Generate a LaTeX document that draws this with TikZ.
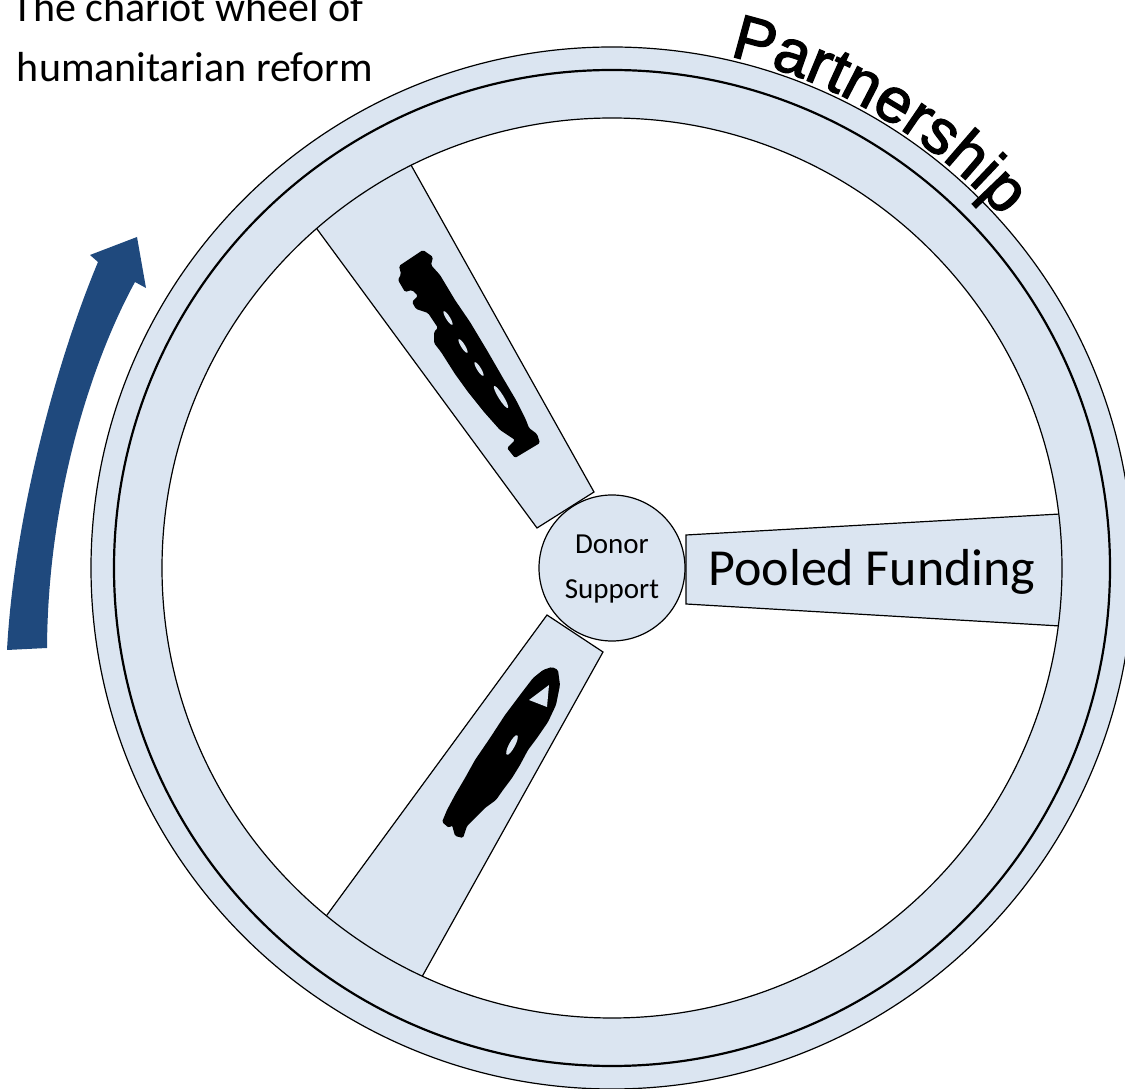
\documentclass[tikz,border=0pt]{standalone}
\usepackage{fontspec}
\setmainfont{Carlito}
\newfontfamily\partfont[FakeBold=2]{Liberation Sans}
\usetikzlibrary{calc,decorations.text}
\definecolor{rimblue}{HTML}{DBE5F1}
\definecolor{arrowblue}{HTML}{1F497D}
\begin{document}
\begin{tikzpicture}[x=1pt,y=1pt,
  thinline/.style={line width=1.2pt},
  spokebox/.style={fill=rimblue, draw=black, line width=1.2pt},
  inkmark/.style={fill=black, rounded corners=1.5pt},
  inkgap/.style={fill=rimblue},
]
\useasboundingbox (0,0) rectangle (1125,1088);
\clip (0,0) rectangle (1125,1088);

% geometry is laid out with y growing downwards
\begin{scope}[shift={(0,1088)}, yscale=-1]
  \coordinate (C) at (612,568);

  % upper-left spoke
  \coordinate (a1) at (537,528); \coordinate (a2) at (594,492);
  \coordinate (a3) at (411,165); \coordinate (a4) at (317,229);
  \draw[spokebox] (a1) -- (a2) -- ($(a2)!1.06!(a3)$) -- ($(a1)!1.06!(a4)$) -- cycle;

  % lower-left spoke
  \coordinate (b1) at (547,615); \coordinate (b2) at (603,652);
  \coordinate (b3) at (423,975); \coordinate (b4) at (327,915);
  \draw[spokebox] (b1) -- (b2) -- ($(b2)!1.06!(b3)$) -- ($(b1)!1.06!(b4)$) -- cycle;

  % right spoke
  \coordinate (c1) at (686,535); \coordinate (c2) at (686,604);
  \coordinate (c3) at (1060,626); \coordinate (c4) at (1060,514);
  \draw[spokebox] (c1) -- (c2) -- ($(c2)!1.05!(c3)$) -- ($(c1)!1.05!(c4)$) -- cycle;

  % rim
  \fill[rimblue, even odd rule] (C) circle[radius=521] (C) circle[radius=450];
  \draw[thinline] (C) circle[radius=521];
  \draw[line width=2.2pt] (C) circle[radius=498];
  \draw[thinline] (C) circle[radius=450];

  % hub
  \node[circle, fill=rimblue, draw=black, line width=1.2pt, minimum size=146pt,
        inner sep=0pt, align=center, font=\fontsize{29}{45}\selectfont,
        text depth=2pt]
        (hub) at (C) {Donor\\Support};

  \node[font=\fontsize{52}{60}\selectfont, anchor=base] (pooled) at (872,586) {Pooled Funding};

  % smudged ink on the upper-left spoke
  \fill[inkmark] (399,266) -- (423,250) -- (433,257) -- (431,265) -- (440,275)
    -- (455,300) -- (470,322) -- (488,352) -- (503,378) -- (516,400) -- (526,420)
    -- (529,428) -- (537,434) -- (540,443) -- (515,458) -- (507,448) -- (515,440)
    -- (500,430) -- (484,412) -- (468,392) -- (455,374) -- (441,352) -- (434,343)
    -- (434,332) -- (438,328) -- (428,313) -- (416,309) -- (412,302) -- (418,296)
    -- (412,290) -- (405,292) -- (398,280) -- (401,274) -- cycle;
  \fill[inkgap, rotate around={58:(448,318)}] (448,318) ellipse[x radius=8, y radius=2];
  \fill[inkgap, rotate around={58:(463,346)}] (463,346) ellipse[x radius=8, y radius=2];
  \fill[inkgap, rotate around={58:(479,369)}] (479,369) ellipse[x radius=8, y radius=2];
  \fill[inkgap, rotate around={58:(501,397)}] (501,397) ellipse[x radius=13, y radius=2.5];

  % smudged ink on the lower-left spoke
  \fill[inkmark] (552,667) -- (558,670) -- (560,685) -- (556,705) -- (548,722)
    -- (537,738) -- (528,750) -- (520,765) -- (512,778) -- (503,790) -- (496,800)
    -- (485,808) -- (475,818) -- (467,826) -- (463,838) -- (455,836) -- (452,825)
    -- (449,828) -- (442,822) -- (447,810) -- (455,795) -- (465,778) -- (475,760)
    -- (490,738) -- (505,715) -- (520,695) -- (533,678) -- (543,670) -- cycle;
  \fill[inkgap] (529,700) -- (549,685) -- (547,707) -- cycle;
  \fill[inkgap, rotate around={-62:(512,745)}] (512,745) ellipse[x radius=11, y radius=3];

  % rotation arrow
  \fill[arrowblue] (7,650) .. controls (14,520) and (55,365) .. (98,262)
    -- (90,255) -- (137,237) -- (146,288) -- (135,282)
    .. controls (95,355) and (48,490) .. (47,648) -- cycle;

  % title
  \node[font=\fontsize{42}{50}\selectfont, anchor=base] (title1) at (188,22) {The chariot wheel of};
  \node[font=\fontsize{42}{50}\selectfont, anchor=base] (title2) at (195,82) {humanitarian reform};
\end{scope}

% curved label over the rim
\coordinate (pc) at (612,520);
\path[decorate, decoration={text along path, text align=center,
      text={|\partfont\fontsize{63}{63}\selectfont|Partnership}}]
  (pc) ++(82:525) arc[start angle=82, end angle=37, radius=525];
\end{tikzpicture}
\end{document}
